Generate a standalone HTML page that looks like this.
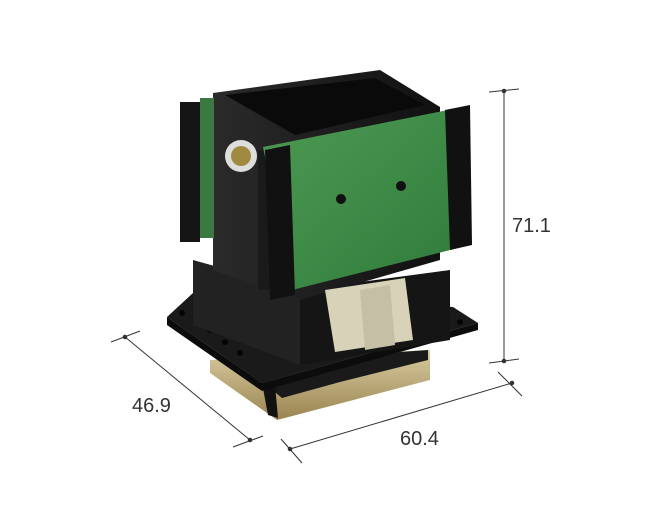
<!DOCTYPE html>
<html><head><style>
html,body{margin:0;padding:0;background:#fff;width:656px;height:526px;overflow:hidden}
svg{display:block}
text{font-family:"Liberation Sans",sans-serif;fill:#333;font-size:20px}
</style></head><body>
<svg width="656" height="526" viewBox="0 0 656 526">
<defs>
<linearGradient id="gold" x1="0" y1="0" x2="0" y2="1"><stop offset="0" stop-color="#d8cba0"/><stop offset="1" stop-color="#9a8450"/></linearGradient>
<linearGradient id="pcb" x1="0" y1="0" x2="1" y2="1"><stop offset="0" stop-color="#4d9a54"/><stop offset="1" stop-color="#2f7a3a"/></linearGradient>
<linearGradient id="body" x1="0" y1="0" x2="1" y2="0"><stop offset="0" stop-color="#2a2a2a"/><stop offset="1" stop-color="#111"/></linearGradient>
</defs>
<!-- gold base -->
<polygon points="210,360 430,350 430,380 277,420 210,373" fill="url(#gold)"/>
<polygon points="270,388 300,378 345,365 400,352 428,350 428,360 340,382 282,398" fill="#1a1a1a"/>
<polygon points="262,383 275,385 278,418 268,415" fill="#111"/>
<!-- base plate -->
<polygon points="167,317 193,293 453,307 478,323 262,383" fill="#1a1a1a"/>
<polygon points="167,317 262,383 478,323 478,330 262,391 167,325" fill="#0c0c0c"/>
<circle cx="182" cy="313" r="3" fill="#050505"/><circle cx="460" cy="322" r="3" fill="#050505"/>
<circle cx="210" cy="330" r="3" fill="#050505"/><circle cx="225" cy="342" r="3" fill="#050505"/><circle cx="240" cy="353" r="3" fill="#050505"/>
<!-- lower body -->
<polygon points="193,260 300,290 300,365 193,325" fill="#222"/>
<polygon points="300,290 450,270 450,340 300,365" fill="#151515"/>
<!-- upper box -->
<polygon points="213,93 380,70 440,107 440,260 300,300 213,270" fill="url(#body)"/>
<polygon points="225,95 375,78 425,105 295,135" fill="#0a0a0a"/>
<!-- left connectors -->
<rect x="180" y="102" width="20" height="140" fill="#151515"/>
<rect x="200" y="98" width="14" height="140" fill="#3a7a40"/>
<rect x="258" y="150" width="12" height="140" fill="#1a1a1a"/>
<!-- epson sticker -->
<circle cx="241" cy="156" r="16" fill="#ddd"/>
<circle cx="241" cy="156" r="10" fill="#a08a40"/>
<!-- PCB -->
<polygon points="263,147 463,107 470,245 292,290" fill="url(#pcb)"/>
<polygon points="265,150 290,145 295,295 270,300" fill="#111"/>
<polygon points="445,110 470,105 472,245 450,250" fill="#111"/>
<circle cx="341" cy="199" r="5" fill="#111"/>
<circle cx="401" cy="186" r="5" fill="#111"/>
<!-- ribbon -->
<polygon points="325,290 405,278 413,340 335,352" fill="#d7d2b8"/>
<polygon points="360,290 390,285 395,345 365,350" fill="#c4bfa5"/>
<!-- dimension lines -->
<g stroke="#333" stroke-width="1" fill="#333">
<line x1="504" y1="91" x2="504" y2="361"/>
<line x1="489" y1="92" x2="519" y2="89"/>
<line x1="489" y1="363" x2="519" y2="359"/>
<circle cx="504" cy="91" r="1.8"/><circle cx="504" cy="361" r="1.8"/>
<line x1="125" y1="337" x2="250" y2="440"/>
<line x1="111" y1="342" x2="140" y2="331"/>
<line x1="233" y1="447" x2="263" y2="436"/>
<circle cx="125" cy="337" r="1.8"/><circle cx="250" cy="440" r="1.8"/>
<line x1="290" y1="449" x2="512" y2="383"/>
<line x1="281" y1="439" x2="302" y2="463"/>
<line x1="498" y1="372" x2="522" y2="396"/>
<circle cx="290" cy="449" r="1.8"/><circle cx="512" cy="383" r="1.8"/>
</g>
<text x="512" y="232">71.1</text>
<text x="132" y="412">46.9</text>
<text x="400" y="445">60.4</text>
</svg>
</body></html>
